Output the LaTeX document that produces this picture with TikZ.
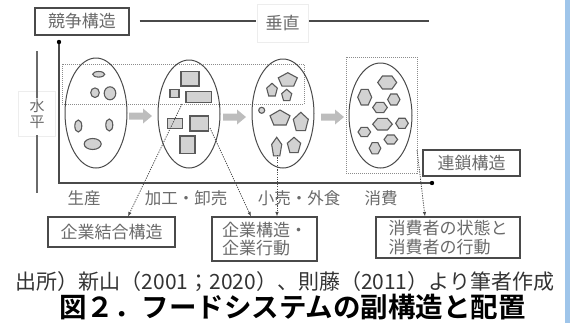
\documentclass[tikz,border=0pt]{standalone}
\usepackage{fontspec}
\setmainfont{Noto Sans CJK JP}
\newfontfamily\cjkbold{Noto Sans CJK JP Bold}
\usetikzlibrary{arrows.meta,shapes.geometric}
\definecolor{txtgray}{HTML}{6A6A6A}
\definecolor{linegray}{HTML}{4A4A4A}
\definecolor{shpfill}{HTML}{D2D2D2}
\definecolor{shpdraw}{HTML}{5A5A5A}
\definecolor{arrgray}{HTML}{BDBDBD}
\definecolor{dotgray}{HTML}{8C8C8C}
\definecolor{bluebar}{HTML}{9FC5EA}
\tikzset{
  lbox/.style={draw=linegray, line width=1.1pt, text=txtgray, inner sep=0pt,
    font=\fontsize{17}{18.5}\selectfont, align=left},
  faintbox/.style={draw=black!7, line width=0.6pt, text=txtgray, inner sep=0pt},
  axlabel/.style={text=txtgray, font=\fontsize{16.5}{18}\selectfont, inner sep=0pt},
  bigell/.style={ellipse, draw=linegray, line width=1pt, inner sep=0pt},
  shp/.style={draw=shpdraw, fill=shpfill, line width=1.1pt},
  dotrect/.style={draw=dotgray, line width=0.8pt, dash pattern=on 1pt off 1pt},
  conn/.style={draw=linegray, line width=0.8pt, dash pattern=on 1.2pt off 1.2pt,
    -{Latex[length=4.5pt,width=3.5pt]}},
  pent/.pic={\draw[shp] (-90:1) -- (-18:1) -- (54:1) -- (126:1) -- (198:1) -- cycle;},
  hexa/.pic={\draw[shp] (0:1) -- (60:1) -- (120:1) -- (180:1) -- (240:1) -- (300:1) -- cycle;},
  garrow/.pic={\fill[arrgray] (0,-3.5) -- (14,-3.5) -- (14,-7.5) -- (23,0) -- (14,7.5) -- (14,3.5) -- (0,3.5) -- cycle;}
}
\begin{document}
\begin{tikzpicture}[x=1pt,y=-1pt]
\useasboundingbox (0,0) rectangle (571,327);
\fill[bluebar] (565,0) rectangle (570,323);

% top labels
\node[lbox, minimum width=94pt, minimum height=27pt] (kyoso) at (82,21.5) {競争構造};
\node[faintbox, minimum width=51pt, minimum height=38pt, font=\fontsize{17}{18}\selectfont] (sui) at (282.5,23) {垂直};
\coordinate (suiend) at (429,21);
\draw[linegray, line width=1.1pt] ([xshift=10pt]kyoso.east |- 0,21) -- (256,21);
\draw[linegray, line width=1.1pt] (309,21) -- (suiend);

% horizontal label at left
\node[faintbox, minimum width=37pt, minimum height=45pt, font=\fontsize{15}{15.5}\selectfont, align=center] (hei) at (37,114) {水\\平};
\coordinate (b1) at (37,51);
\coordinate (b2) at (37,193);
\draw[txtgray, line width=1.2pt] (b1) -- ([yshift=2pt]hei.north |- 0,100);
\draw[txtgray, line width=1.2pt] (37,135) -- (b2);

% axes
\coordinate (top) at (59,42);
\coordinate (O) at (59,183);
\coordinate (right) at (432,183);
\draw[linegray, line width=1.5pt] (top) -- (O) -- (right);
\fill[black] (top) circle (2.2pt);
\fill[black] (right) circle (2.2pt);

% dotted rectangles
\draw[dotrect] (62,64) rectangle (304,104);
\draw[dotrect] (346,57) rectangle (417,173);

% big ellipses
\node[bigell, minimum width=62pt, minimum height=110pt] (e1) at (96,113) {};
\node[bigell, minimum width=62pt, minimum height=108pt] (e2) at (189,114) {};
\node[bigell, minimum width=62pt, minimum height=109pt] (e3) at (283,113.5) {};
\node[bigell, minimum width=63pt, minimum height=105pt] (e4) at (380.5,115.5) {};

% gray arrows
\pic at (129,116) {garrow};
\pic at (223,117) {garrow};
\pic at (321,117) {garrow};

% shapes in ellipse 1
\draw[shp] (98.7,74.3) ellipse [x radius=6, y radius=2.8];
\draw[shp] (95,92.7) ellipse [x radius=4.3, y radius=4.8];
\draw[shp] (110,93.3) ellipse [x radius=5.8, y radius=6.5];
\draw[shp] (78.3,126) ellipse [x radius=3.5, y radius=6];
\draw[shp] (109.3,125) ellipse [x radius=3.5, y radius=6];
\draw[shp] (92.7,144) ellipse [x radius=8.5, y radius=5.5];

% rectangles in ellipse 2
\draw[shp] (181,71.7) rectangle (199,86);
\draw[shp] (170,89.3) rectangle (179,97.3);
\draw[shp] (186,91.7) rectangle (211.7,102.3);
\draw[shp] (167.3,118.3) rectangle (182.3,128.3);
\draw[shp] (190,116) rectangle (208.3,131);
\draw[shp] (180,136) rectangle (195,153.3);

% pentagons in ellipse 3
\pic[xscale=10, yscale=7.4] at (287.8,80.1) {pent};
\pic[xscale=5.6, yscale=7] at (272,90.3) {pent};
\pic[xscale=5.3, yscale=6.3] at (286.7,95.6) {pent};
\draw[shp] (261.7,110.3) circle (3);
\pic[xscale=10.5, yscale=8.3] at (280,118.3) {pent};
\pic[xscale=7.9, yscale=10.1] at (300.8,122.4) {pent};
\pic[xscale=5.3, yscale=10.3] at (276.7,147.6) {pent};
\pic[xscale=7, yscale=8.5] at (294,145.8) {pent};

% hexagons in ellipse 4
\pic[xscale=9.5, yscale=7.5] at (387.2,82.5) {hexa};
\pic[xscale=7, yscale=9] at (364.7,97.2) {hexa};
\pic[xscale=6.2, yscale=6.4] at (393.8,99.5) {hexa};
\pic[xscale=7.3, yscale=6] at (380,107.5) {hexa};
\pic[xscale=9.8, yscale=6.7] at (382.5,124.2) {hexa};
\pic[xscale=6.3, yscale=5.8] at (402,123.3) {hexa};
\pic[xscale=6.3, yscale=5.4] at (364.3,132) {hexa};
\pic[xscale=6.8, yscale=5.2] at (390.8,139.5) {hexa};
\pic[xscale=5.8, yscale=6.5] at (375,148.3) {hexa};

% chain structure box
\node[lbox, minimum width=97pt, minimum height=26pt] (rensa) at (471.5,163) {連鎖構造};

% axis labels
\node[axlabel] (l1) at (84,198) {生産};
\node[axlabel] (l2) at (186,198) {加工・卸売};
\node[axlabel] (l3) at (299,198) {小売・外食};
\node[axlabel] (l4) at (381,198) {消費};

% bottom boxes
\node[lbox, minimum width=127pt, minimum height=30pt] (kk) at (111.5,232) {企業結合構造};
\node[lbox, minimum width=105pt, minimum height=44pt] (kz) at (264.5,239) {企業構造・\\企業行動};
\node[lbox, minimum width=144pt, minimum height=41pt] (sh) at (448,237.5) {消費者の状態と\\消費者の行動};

% connectors
\coordinate (c1) at (182,104);
\coordinate (c2) at (210,128);
\coordinate (c3) at (277,155);
\coordinate (c4) at (417,150);
\draw[conn] (c1) -- ([xshift=16.5pt]kk.north);
\draw[conn] (c2) -- ([xshift=-13.5pt]kz.north);
\draw[conn] (c3) -- ([xshift=12.5pt]kz.north);
\draw[conn] (c4) -- ([xshift=-23pt]sh.north);

% caption and title
\node[inner sep=0pt, text=black!80, font=\fontsize{21}{22}\selectfont] (src) at (285,282) {出所）新山（2001；2020）、則藤（2011）より筆者作成};
\node[inner sep=0pt, text=black, font=\cjkbold\fontsize{27.5}{29}\selectfont] (title) at (292.5,307) {図２．フードシステムの副構造と配置};
\end{tikzpicture}
\end{document}
